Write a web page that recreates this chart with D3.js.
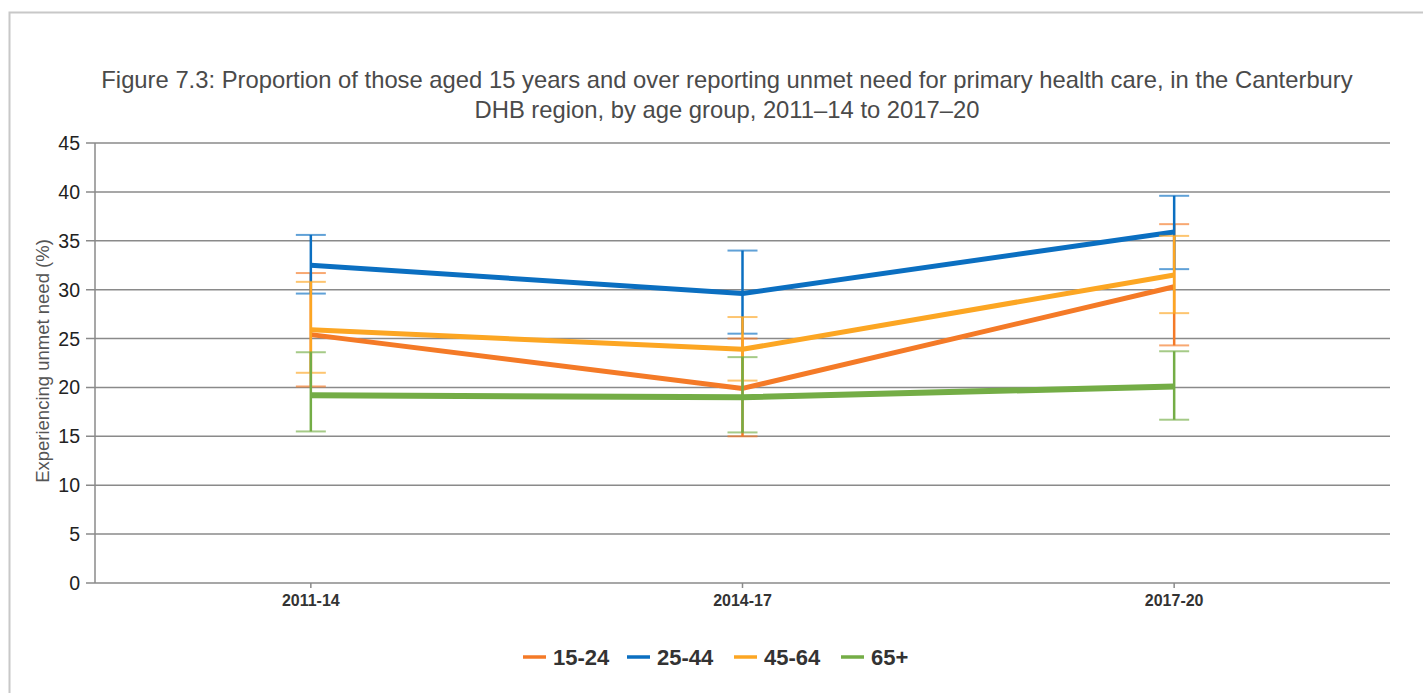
<!DOCTYPE html>
<html>
<head>
<meta charset="utf-8">
<script src="https://cdn.jsdelivr.net/npm/d3@7"></script>
<style>
  body { margin: 0; background: #fff; }
  svg { display: block; font-family: "Liberation Sans", Arial, sans-serif; }
</style>
</head>
<body>
<svg id="chart" width="1423" height="693"></svg>
<script>
const periods = ["2011-14", "2014-17", "2017-20"];
const groups = ["15-24", "25-44", "45-64", "65+"];
const colors = ["#f47a27", "#0b6fc1", "#fca623", "#74ad46"];

// point estimates and 95% CI per age group, by period
const value15to24 = [25.4, 19.9, 30.3];
const lower15to24 = [20.1, 15.0, 24.3];
const upper15to24 = [31.7, 25.0, 36.7];

const value25to44 = [32.5, 29.6, 35.9];
const lower25to44 = [29.6, 25.5, 32.1];
const upper25to44 = [35.6, 34.0, 39.6];

const value45to64 = [25.9, 23.9, 31.5];
const lower45to64 = [21.5, 20.7, 27.6];
const upper45to64 = [30.8, 27.2, 35.5];

const value65plus = [19.2, 19.0, 20.1];
const lower65plus = [15.5, 15.4, 16.7];
const upper65plus = [23.6, 23.1, 23.7];

const yTicks = [0, 5, 10, 15, 20, 25, 30, 35, 40, 45];

const series = [
    {name: groups[0], color: colors[0], width: 5, v: value15to24, lo: lower15to24, hi: upper15to24},
    {name: groups[1], color: colors[1], width: 5, v: value25to44, lo: lower25to44, hi: upper25to44},
    {name: groups[2], color: colors[2], width: 5, v: value45to64, lo: lower45to64, hi: upper45to64},
    {name: groups[3], color: colors[3], width: 6, v: value65plus, lo: lower65plus, hi: upper65plus}
];

const svg = d3.select("#chart");

// outer frame
svg.append("rect")
    .attr("x", 9.5).attr("y", 12.5)
    .attr("width", 1430).attr("height", 700)
    .attr("fill", "none")
    .attr("stroke", "#c8c8c8")
    .attr("stroke-width", 2);

const margin = {left: 95, right: 1390, top: 143, bottom: 583};

const x = d3.scalePoint()
    .domain(periods)
    .range([margin.left, margin.right])
    .padding(0.5);

const y = d3.scaleLinear()
    .domain([0, 45])
    .range([margin.bottom, margin.top]);

// title
const title = svg.append("text")
    .attr("text-anchor", "middle")
    .attr("fill", "#4a4a4a")
    .attr("font-size", "23.8px");
title.append("tspan").attr("x", 727).attr("y", 88)
    .text("Figure 7.3: Proportion of those aged 15 years and over reporting unmet need for primary health care, in the Canterbury");
title.append("tspan").attr("x", 727).attr("y", 118)
    .text("DHB region, by age group, 2011\u201314 to 2017\u201320");

// gridlines
svg.append("g")
    .selectAll("line")
    .data(yTicks)
    .join("line")
    .attr("x1", margin.left - 9).attr("x2", margin.right)
    .attr("y1", d => y(d)).attr("y2", d => y(d))
    .attr("stroke", "#8a8a8a")
    .attr("stroke-width", 1.5);

// y axis line
svg.append("line")
    .attr("x1", margin.left).attr("x2", margin.left)
    .attr("y1", y(45)).attr("y2", y(0))
    .attr("stroke", "#8a8a8a")
    .attr("stroke-width", 1.5);

// y tick labels
svg.append("g")
    .selectAll("text")
    .data(yTicks)
    .join("text")
    .attr("x", margin.left - 15)
    .attr("y", d => y(d) + 7)
    .attr("text-anchor", "end")
    .attr("font-size", "19.5px")
    .attr("fill", "#222")
    .text(d => d);

// x ticks and labels
const xg = svg.append("g");
xg.selectAll("line")
    .data(periods)
    .join("line")
    .attr("x1", d => x(d)).attr("x2", d => x(d))
    .attr("y1", y(0)).attr("y2", y(0) + 5)
    .attr("stroke", "#8a8a8a")
    .attr("stroke-width", 1.5);
xg.selectAll("text")
    .data(periods)
    .join("text")
    .attr("x", d => x(d))
    .attr("y", y(0) + 23)
    .attr("text-anchor", "middle")
    .attr("font-size", "16px")
    .attr("font-weight", "bold")
    .attr("fill", "#333")
    .text(d => d);

// y axis title
svg.append("text")
    .attr("transform", `translate(49, ${(margin.top + margin.bottom) / 2 - 2}) rotate(-90)`)
    .attr("text-anchor", "middle")
    .attr("font-size", "18.5px")
    .attr("fill", "#555")
    .text("Experiencing unmet need (%)");

// lines + error bars, drawn in series order
const line = d3.line()
    .x((d, i) => x(periods[i]))
    .y(d => y(d));

series.forEach(s => {
    const g = svg.append("g");
    g.append("path")
        .datum(s.v)
        .attr("d", line)
        .attr("fill", "none")
        .attr("stroke", s.color)
        .attr("stroke-width", s.width)
        .attr("stroke-linejoin", "round");

    const bars = periods.map((p, i) => ({p, lo: s.lo[i], hi: s.hi[i]}));
    g.selectAll("line.v")
        .data(bars)
        .join("line")
        .attr("class", "v")
        .attr("x1", d => x(d.p)).attr("x2", d => x(d.p))
        .attr("y1", d => y(d.lo)).attr("y2", d => y(d.hi))
        .attr("stroke", s.color)
        .attr("stroke-width", 2.5);
    g.selectAll("line.cap")
        .data(bars.flatMap(d => [{p: d.p, val: d.lo}, {p: d.p, val: d.hi}]))
        .join("line")
        .attr("class", "cap")
        .attr("x1", d => x(d.p) - 15).attr("x2", d => x(d.p) + 15)
        .attr("y1", d => y(d.val)).attr("y2", d => y(d.val))
        .attr("stroke", s.color)
        .attr("stroke-opacity", 0.65)
        .attr("stroke-width", 2);
});

// legend
const legendX = [523, 627, 734, 841];
const legend = svg.append("g");
series.forEach((s, i) => {
    legend.append("line")
        .attr("x1", legendX[i]).attr("x2", legendX[i] + 23)
        .attr("y1", 657).attr("y2", 657)
        .attr("stroke", s.color)
        .attr("stroke-width", 3.5);
    legend.append("text")
        .attr("x", legendX[i] + 30)
        .attr("y", 665)
        .attr("font-size", "22px")
        .attr("font-weight", "bold")
        .attr("fill", "#333")
        .text(s.name);
});
</script>
</body>
</html>
